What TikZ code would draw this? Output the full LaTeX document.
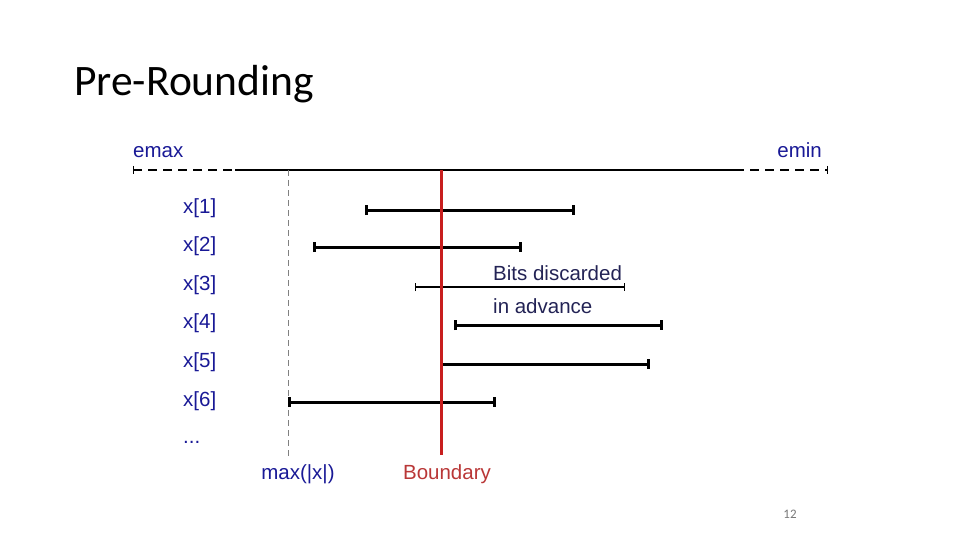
\documentclass[tikz,border=0pt]{standalone}
\usepackage{fontspec}
\setmainfont{Liberation Sans}
\newfontfamily\titlefont{Carlito}
\usetikzlibrary{arrows.meta,positioning,calc}
\definecolor{labBlue}   {RGB}{25,  25, 150}
\definecolor{bndRed}    {RGB}{200, 30,  30}
\definecolor{bndText}   {RGB}{185, 55,  55}
\definecolor{noteNavy}  {RGB}{35,  35,  85}
\definecolor{pageGray}  {RGB}{120,120, 120}

\begin{document}
\begin{tikzpicture}[x=1pt,y=-1pt,
    lab/.style={font=\fontsize{20.5}{24}\selectfont,inner sep=0pt},
    bar/.style={{Bar[width=10pt]}-{Bar[width=10pt]},line width=3pt},
    thinbar/.style={{Bar[width=8pt]}-{Bar[width=8pt]},line width=1.4pt}]

    \useasboundingbox (0,0) rectangle (960,540);

    % ── TITLE ─────────────────────────────────────────────
    \node[anchor=base west,inner sep=0pt,font=\titlefont\fontsize{43.5}{48}\selectfont]
          (title) at (74,96){Pre-Rounding};
    \node[font=\titlefont\fontsize{13}{15}\selectfont,pageGray]
          (page) at (790,514){12};

    % ── EXPONENT RANGE ────────────────────────────────────
    \node[lab,labBlue,anchor=base west] (emax) at (133,158){emax};
    \node[lab,labBlue,anchor=base east] (emin) at (822,158){emin};
    \coordinate (rL) at (133,170);
    \coordinate (rA) at (235,170);
    \coordinate (rB) at (735,170);
    \coordinate (rR) at (827,170);
    \draw[line width=1.2pt,dash pattern=on 9pt off 6pt] (rL) -- (rA);
    \draw[line width=1.2pt] (rA) -- (rB);
    \draw[line width=1.2pt,dash pattern=on 9pt off 6pt] (rB) -- (rR);
    \draw[line width=1pt] ($(rL)+(0,-4)$) -- ($(rL)+(0,4)$);
    \draw[line width=1pt] ($(rR)+(0,-4)$) -- ($(rR)+(0,4)$);

    % ── VALUE LABELS ──────────────────────────────────────
    \foreach \i/\y in {1/213,2/251,3/290,4/328,5/367,6/406}{
      \node[lab,labBlue,anchor=base west] (x\i) at (183,\y){x[\i]};
    }
    \node[lab,labBlue,anchor=base west] (dots) at (183,443){...};

    % ── MAX AND BOUNDARY ──────────────────────────────────
    \coordinate (mTop) at (288,170);
    \coordinate (mBot) at (288,456);
    \draw[gray,line width=0.8pt,dash pattern=on 6pt off 4pt] (mTop) -- (mBot);
    \node[lab,labBlue,anchor=base] (maxx) at (298,479){max(|x|)};

    \coordinate (bTop) at (441,170);
    \coordinate (bBot) at (441,455);
    \node[lab,bndText,anchor=base] (bnd) at (447,479){Boundary};

    % ── MANTISSA BARS ─────────────────────────────────────
    \foreach \n/\l/\r/\y in {1/365/575/210,2/313/522/247,4/454/663/325,6/288/496/402}{
      \coordinate (b\n L) at (\l,\y);
      \coordinate (b\n R) at (\r,\y);
      \draw[bar] (b\n L) -- (b\n R);
    }
    \coordinate (b3L) at (415,287);
    \coordinate (b3R) at (625,287);
    \draw[thinbar] (b3L) -- (b3R);
    \coordinate (b5L) at (442,364);
    \coordinate (b5R) at (650,364);
    \draw[-{Bar[width=10pt]},line width=3pt] (b5L) -- (b5R);

    \draw[bndRed,line width=3pt] (bTop) -- (bBot);

    \node[lab,noteNavy,anchor=base west] (note1) at (493,280){Bits discarded};
    \node[lab,noteNavy,anchor=base west] (note2) at (493,313){in advance};

\end{tikzpicture}
\end{document}
